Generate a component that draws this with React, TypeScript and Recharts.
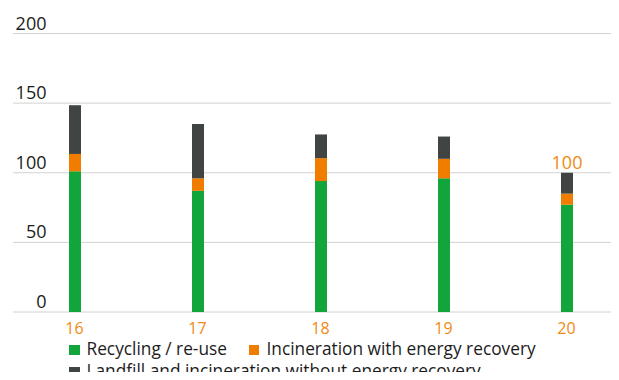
import React from 'react';
import { BarChart, Bar, XAxis, YAxis, CartesianGrid, Legend, LabelList } from 'recharts';

// Waste volume index by disposal route (2020 = 100)
const years = ['16', '17', '18', '19', '20'];
const recycling = [101, 87, 94, 96, 77];
const incinerationRecovery = [12.5, 9, 16.5, 14, 8];
const landfill = [35, 39, 17, 16, 15];
const yTicks = [0, 50, 100, 150, 200];
const labelledYears = ['20'];

const seriesNames = {
  recycling: 'Recycling / re-use',
  incinerationRecovery: 'Incineration with energy recovery',
  landfill: 'Landfill and incineration without energy recovery',
};

const GREEN = '#12a53c';
const ORANGE = '#f07d00';
const DARK = '#404543';
const ORANGE_TEXT = '#f18a12';
const TEXT = '#1c1c1c';
const GRID = '#d2d2d2';
const FONT = "'Open Sans', sans-serif";

const data = years.map((year, i) => ({
  year,
  recycling: recycling[i],
  incinerationRecovery: incinerationRecovery[i],
  landfill: landfill[i],
  total: recycling[i] + incinerationRecovery[i] + landfill[i],
}));

const renderYTick = (props: any) => {
  const { y, payload } = props;
  return (
    <text x={46.5} y={y - 4} textAnchor="end" fill={TEXT} fontSize={18} fontFamily={FONT}>
      {payload.value}
    </text>
  );
};

const TotalLabel = (props: any) => {
  const { x, y, width, index } = props;
  const row = data[index];
  if (!row || !labelledYears.includes(row.year)) return null;
  return (
    <text x={x + width / 2} y={y - 4} textAnchor="middle" fill={ORANGE_TEXT} fontSize={18} fontFamily={FONT}>
      {row.total}
    </text>
  );
};

const legendRows = [
  [
    { key: 'recycling', color: GREEN },
    { key: 'incinerationRecovery', color: ORANGE },
  ],
  [{ key: 'landfill', color: DARK }],
];

const LegendContent = () => (
  <div
    style={{
      height: 46,
      paddingLeft: 69,
      fontFamily: FONT,
      fontSize: 17.3,
      color: TEXT,
      boxSizing: 'border-box',
    }}
  >
    {legendRows.map((row, r) => (
      <div key={r} style={{ display: 'flex', alignItems: 'center', height: 22, whiteSpace: 'nowrap' }}>
        {row.map((item, j) => (
          <div key={item.key} style={{ display: 'flex', alignItems: 'center', marginRight: j < row.length - 1 ? 22 : 0 }}>
            <span
              style={{
                display: 'inline-block',
                width: 10.5,
                height: 10.5,
                background: item.color,
                marginRight: 7,
                position: 'relative',
                top: 1,
              }}
            />
            <span style={{ lineHeight: '22px' }}>{seriesNames[item.key as keyof typeof seriesNames]}</span>
          </div>
        ))}
      </div>
    ))}
  </div>
);

export default function App() {
  return (
    <div style={{ margin: -8, width: 619, height: 380, overflow: 'hidden', position: 'relative' }}>
      <BarChart
        width={640}
        height={384}
        data={data}
        margin={{ top: 33.5, right: 12, bottom: 0, left: 8 }}
        barSize={12}
      >
        <CartesianGrid horizontal vertical={false} stroke={GRID} strokeWidth={1} />
        <XAxis
          dataKey="year"
          height={26}
          axisLine={false}
          tickLine={false}
          tickMargin={5}
          tick={{ fill: ORANGE_TEXT, fontSize: 16, fontFamily: FONT }}
        />
        <YAxis
          width={5}
          domain={[0, 200]}
          ticks={yTicks}
          axisLine={false}
          tickLine={false}
          tick={renderYTick}
        />
        <Legend
          verticalAlign="bottom"
          align="left"
          height={46}
          wrapperStyle={{ left: 0, width: 640 }}
          content={<LegendContent />}
        />
        <Bar dataKey="recycling" stackId="a" fill={GREEN} isAnimationActive={false} />
        <Bar dataKey="incinerationRecovery" stackId="a" fill={ORANGE} isAnimationActive={false} />
        <Bar dataKey="landfill" stackId="a" fill={DARK} isAnimationActive={false}>
          <LabelList dataKey="total" content={<TotalLabel />} />
        </Bar>
      </BarChart>
    </div>
  );
}
